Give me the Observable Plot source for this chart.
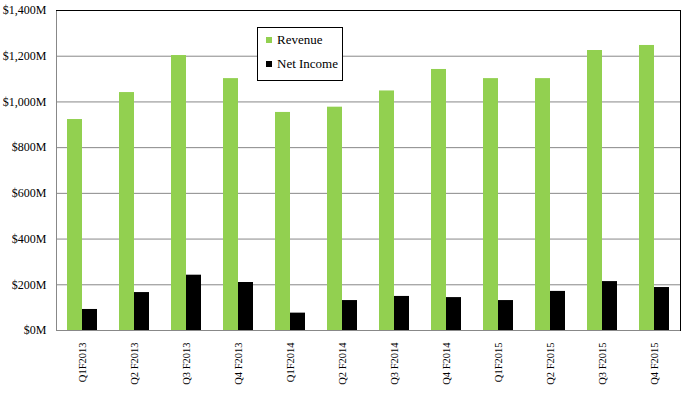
<!DOCTYPE html>
<html><head><meta charset="utf-8">
<script src="https://cdn.jsdelivr.net/npm/d3@7"></script>
<script src="https://cdn.jsdelivr.net/npm/@observablehq/plot@0.6"></script>
<style>
body{margin:0;background:#fff;}
#wrap{position:relative;width:692px;height:394px;}
#legend{position:absolute;left:257px;top:27px;width:86px;height:54px;background:#fff;border:1px solid #000;box-sizing:border-box;font-family:"Liberation Serif",serif;font-size:13px;color:#000;}
#legend .row{position:absolute;left:8px;display:flex;align-items:center;line-height:13px;}
#legend .sw{width:6px;height:6px;margin-right:5px;}
</style></head>
<body><div id="wrap"><div id="chart"></div>
<div id="legend"></div></div>
<script>
const quarters = ["Q1F2013","Q2 F2013","Q3 F2013","Q4 F2013","Q1F2014","Q2 F2014","Q3 F2014","Q4 F2014","Q1F2015","Q2 F2015","Q3 F2015","Q4 F2015"];
const revenue = [923, 1041, 1203, 1102, 954, 977, 1048, 1142, 1102, 1102, 1225, 1247];
const netIncome = [92, 166, 242, 210, 76, 131, 149, 144, 131, 171, 214, 188];
const series = ["Revenue", "Net Income"];
const colors = ["#92D050", "#000000"];
const yTicks = [0, 200, 400, 600, 800, 1000, 1200, 1400];

const data = quarters.flatMap((q, i) => [
  {quarter: q, series: series[0], value: revenue[i]},
  {quarter: q, series: series[1], value: netIncome[i]}
]);

const chart = Plot.plot({
  width: 692, height: 394,
  marginLeft: 56, marginRight: 12, marginTop: 10, marginBottom: 64,
  style: {fontFamily: "Liberation Serif, serif", fontSize: "12px", color: "#000", background: "#fff"},
  x: {domain: quarters, paddingInner: 0.423, paddingOuter: 0.2115, label: null},
  y: {domain: [0, 1400], label: null},
  color: {domain: series, range: colors},
  marks: [
    Plot.gridY(yTicks, {stroke: "#888", strokeOpacity: 1}),
    Plot.barY(data.filter(d => d.series === series[0]), {x: "quarter", y: "value", fill: "series", insetRight: 15}),
    Plot.barY(data.filter(d => d.series === series[1]), {x: "quarter", y: "value", fill: "series", insetLeft: 15}),
    Plot.frame({stroke: "#888"}),
    Plot.frame({anchor: "right", stroke: "#000"}),
    Plot.ruleY([1400], {stroke: "#000"}),
    Plot.axisY({ticks: yTicks, tickSize: 0, tickPadding: 10, tickFormat: d => "$" + d3.format(",")(d) + "M", fontSize: 12}),
    Plot.axisX({tickSize: 0, tickPadding: 12, tickRotate: -90, fontSize: 10.5})
  ]
});
document.getElementById("chart").appendChild(chart);

const legend = document.getElementById("legend");
series.forEach((s, i) => {
  const row = document.createElement("div");
  row.className = "row";
  row.style.top = (i === 0 ? 5 : 29) + "px";
  const sw = document.createElement("span");
  sw.className = "sw";
  sw.style.background = colors[i];
  row.appendChild(sw);
  row.appendChild(document.createTextNode(s));
  legend.appendChild(row);
});
</script></body></html>
